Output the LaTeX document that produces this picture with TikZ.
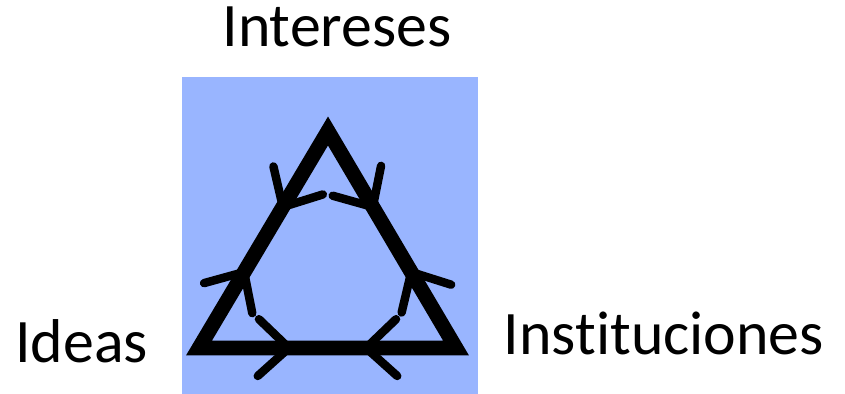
\documentclass[tikz,border=0pt]{standalone}
\usepackage{fontspec}
\setmainfont{Carlito}[Ligatures={NoCommon,NoRequired,NoContextual}]
\usetikzlibrary{decorations.markings}

\definecolor{panelblue}{RGB}{153,181,255}

\begin{document}
\begin{tikzpicture}[
    chev/.style={line width=6pt, line cap=round, line join=round},
    side/.style={line width=10.5pt, line join=miter},
    flow/.style={decorate, decoration={markings,
        mark=at position 0.35 with {\draw[chev] (-0.75,0.72) -- (0,0) -- (-0.78,-0.7);},
        mark=at position 0.65 with {\draw[chev] (0.75,0.72) -- (0,0) -- (0.78,-0.7);}}},
    label/.style={font=\fontsize{44}{50}\selectfont, anchor=base}
]
\useasboundingbox (0,0) rectangle (21.125,9.85);

% Blue panel
\fill[panelblue] (4.55,0) rectangle (11.95,7.925);

% Corners of the triangle
\coordinate (ideas-v) at (4.975,1.15);
\coordinate (intereses-v) at (8.2,6.575);
\coordinate (instituciones-v) at (11.4,1.15);

% Triangle
\draw[side] (ideas-v) -- (intereses-v) -- (instituciones-v) -- cycle;

% Arrows on each side
\path[flow] (ideas-v) -- (intereses-v);
\path[flow] (instituciones-v) -- (intereses-v);
\path[flow] (ideas-v) -- (instituciones-v);

% Labels
\node[label] (intereses) at (8.425,8.675) {Intereses};
\node[label] (ideas) at (2.04,0.775) {Ideas};
\node[label] (instituciones) at (16.6,0.975) {Instituciones};

\end{tikzpicture}
\end{document}
